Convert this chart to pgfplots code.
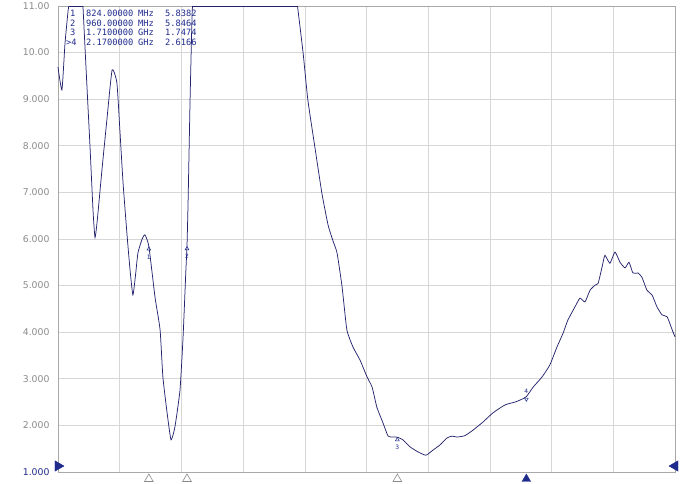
\documentclass[border=0pt]{standalone}
\usepackage{pgfplots}
\pgfplotsset{compat=1.18}
\usepackage{fontspec}
\setmainfont{DejaVu Sans}
\newfontfamily\monofont{DejaVu Sans Mono}
\definecolor{trace}{HTML}{24246E}
\definecolor{mk}{HTML}{1E2A8C}
\definecolor{gridc}{HTML}{D6D6D6}
\definecolor{lab}{HTML}{8A8A8A}
\definecolor{frame}{HTML}{A8A8A8}
\begin{document}
\begin{tikzpicture}[x=1pt,y=1pt]
\begin{axis}[
  at={(0,0)}, anchor=south west,
  scale only axis, width=617pt, height=466pt,
  xmin=500, xmax=2700, ymin=1, ymax=11,
  xtick={500,720,940,1160,1380,1600,1820,2040,2260,2480,2700},
  xticklabels={},
  ytick={1,2,3,4,5,6,7,8,9,10,11},
  yticklabels={{\textcolor{mk}{1.000}},2.000,3.000,4.000,5.000,6.000,7.000,8.000,9.000,10.00,11.00},
  grid=major, major grid style={draw=gridc, line width=0.6pt},
  axis line style={draw=frame, line width=0.7pt},
  major tick length=0pt,
  yticklabel style={font=\fontsize{9.3}{9.3}\selectfont, text=lab, xshift=-5pt},
  clip=false,
]
\addplot[trace, line width=0.75pt, smooth, tension=0.3] coordinates {
(500,9.69)(514,9.2)(525,10.2)(536,10.9)(539,11)};
\addplot[trace, line width=0.75pt] coordinates {(539,11)(589,11)};
\addplot[trace, line width=0.75pt, smooth, tension=0.3] coordinates {
(589,11)(603,9.3)(614,8.0)(625,6.6)(632,6.03)(640,6.4)
(657,7.5)(675,8.6)(693,9.63)(710,9.35)(721,8.3)(732,7.2)(746,6.1)(757,5.33)(767,4.8)(776,5.2)
(785,5.7)(800,6.0)(810,6.09)(824,5.84)(846,4.75)(864,4.05)(874,3.04)(889,2.27)(903,1.69)(917,1.97)
(935,2.76)(946,3.9)(956,5.33)(960,5.85)(964,6.84)(971,9.0)(978,10.8)(980,11)};
\addplot[trace, line width=0.75pt] coordinates {(980,11)(1354,11)};
\addplot[trace, line width=0.75pt, smooth, tension=0.3] coordinates {
(1354,11)(1374,9.99)
(1391,8.98)(1416,7.97)(1441,6.98)(1463,6.3)(1481,5.95)(1495,5.7)(1513,4.97)(1530,4.05)(1552,3.68)
(1577,3.4)(1602,3.04)(1620,2.82)(1637,2.39)(1659,2.05)(1677,1.77)(1695,1.75)(1710,1.747)(1730,1.69)
(1755,1.54)(1784,1.43)(1812,1.36)(1837,1.47)(1862,1.58)(1887,1.73)(1905,1.77)(1923,1.75)(1951,1.78)
(1980,1.9)(2015,2.07)(2051,2.27)(2094,2.44)(2129,2.5)(2150,2.55)(2170,2.617)(2194,2.82)(2226,3.04)
(2254,3.3)(2279,3.68)(2301,3.98)(2318,4.26)(2343,4.54)(2361,4.73)(2379,4.65)(2397,4.9)(2415,5.01)
(2426,5.05)(2440,5.4)(2450,5.65)(2468,5.48)(2486,5.72)(2504,5.5)(2522,5.38)(2536,5.5)(2550,5.27)
(2568,5.27)(2582,5.18)(2600,4.9)(2618,4.8)(2636,4.54)(2654,4.37)(2672,4.33)(2690,4.05)(2700,3.9)
};
% markers on trace (1-3, below)
\addplot[only marks, mark=triangle, mark size=2.2pt, mk, mark options={yshift=-2.5pt, line width=0.5pt},
  point meta=explicit symbolic, nodes near coords,
  nodes near coords style={anchor=north, yshift=-5pt, font=\fontsize{6}{6}\selectfont, text=mk, inner sep=0.5pt}]
  coordinates {(824,5.8382)[1] (960,5.8464)[2] (1710,1.7474)[3]};
% marker 4 (above)
\addplot[only marks, mark=triangle, mark size=2.2pt, mk, mark options={rotate=180, yshift=2.5pt, line width=0.5pt},
  point meta=explicit symbolic, nodes near coords,
  nodes near coords style={anchor=south, yshift=5pt, font=\fontsize{6}{6}\selectfont, text=mk, inner sep=0.5pt}]
  coordinates {(2170,2.6166)[4]};
% bottom marker triangles
\addplot[only marks, mark=triangle, mark size=5pt, lab, mark options={yshift=-7pt, line width=0.6pt}]
  coordinates {(824,1)(960,1)(1710,1)};
\addplot[only marks, mark=triangle*, mark size=5pt, mk, mark options={yshift=-7pt, fill=mk}]
  coordinates {(2170,1)};
% reference level pointers
\addplot[only marks, mark=triangle*, mark size=6pt, mk, mark options={rotate=-90, xshift=-6pt, fill=mk}]
  coordinates {(500,1)};
\addplot[only marks, mark=triangle*, mark size=6pt, mk, mark options={rotate=90, xshift=6pt, fill=mk}]
  coordinates {(2700,1)};
\end{axis}
% marker table
\begin{scope}[every node/.style={anchor=west, inner sep=0pt, text=mk, font=\monofont\fontsize{8.7}{8.7}\selectfont}]
\node at (12,458.5) {1};
\node at (12,449) {2};
\node at (12,439.5) {3};
\node at (8,430) {>4};
\node at (28,458.5) {824.00000};
\node at (28,449) {960.00000};
\node at (28,439.5) {1.7100000};
\node at (28,430) {2.1700000};
\node at (80,458.5) {MHz};
\node at (80,449) {MHz};
\node at (80,439.5) {GHz};
\node at (80,430) {GHz};
\node at (107,458.5) {5.8382};
\node at (107,449) {5.8464};
\node at (107,439.5) {1.7474};
\node at (107,430) {2.6166};
\end{scope}
\pgfresetboundingbox
\path[use as bounding box] (-58,-12) rectangle (625,472);
\end{tikzpicture}
\end{document}
